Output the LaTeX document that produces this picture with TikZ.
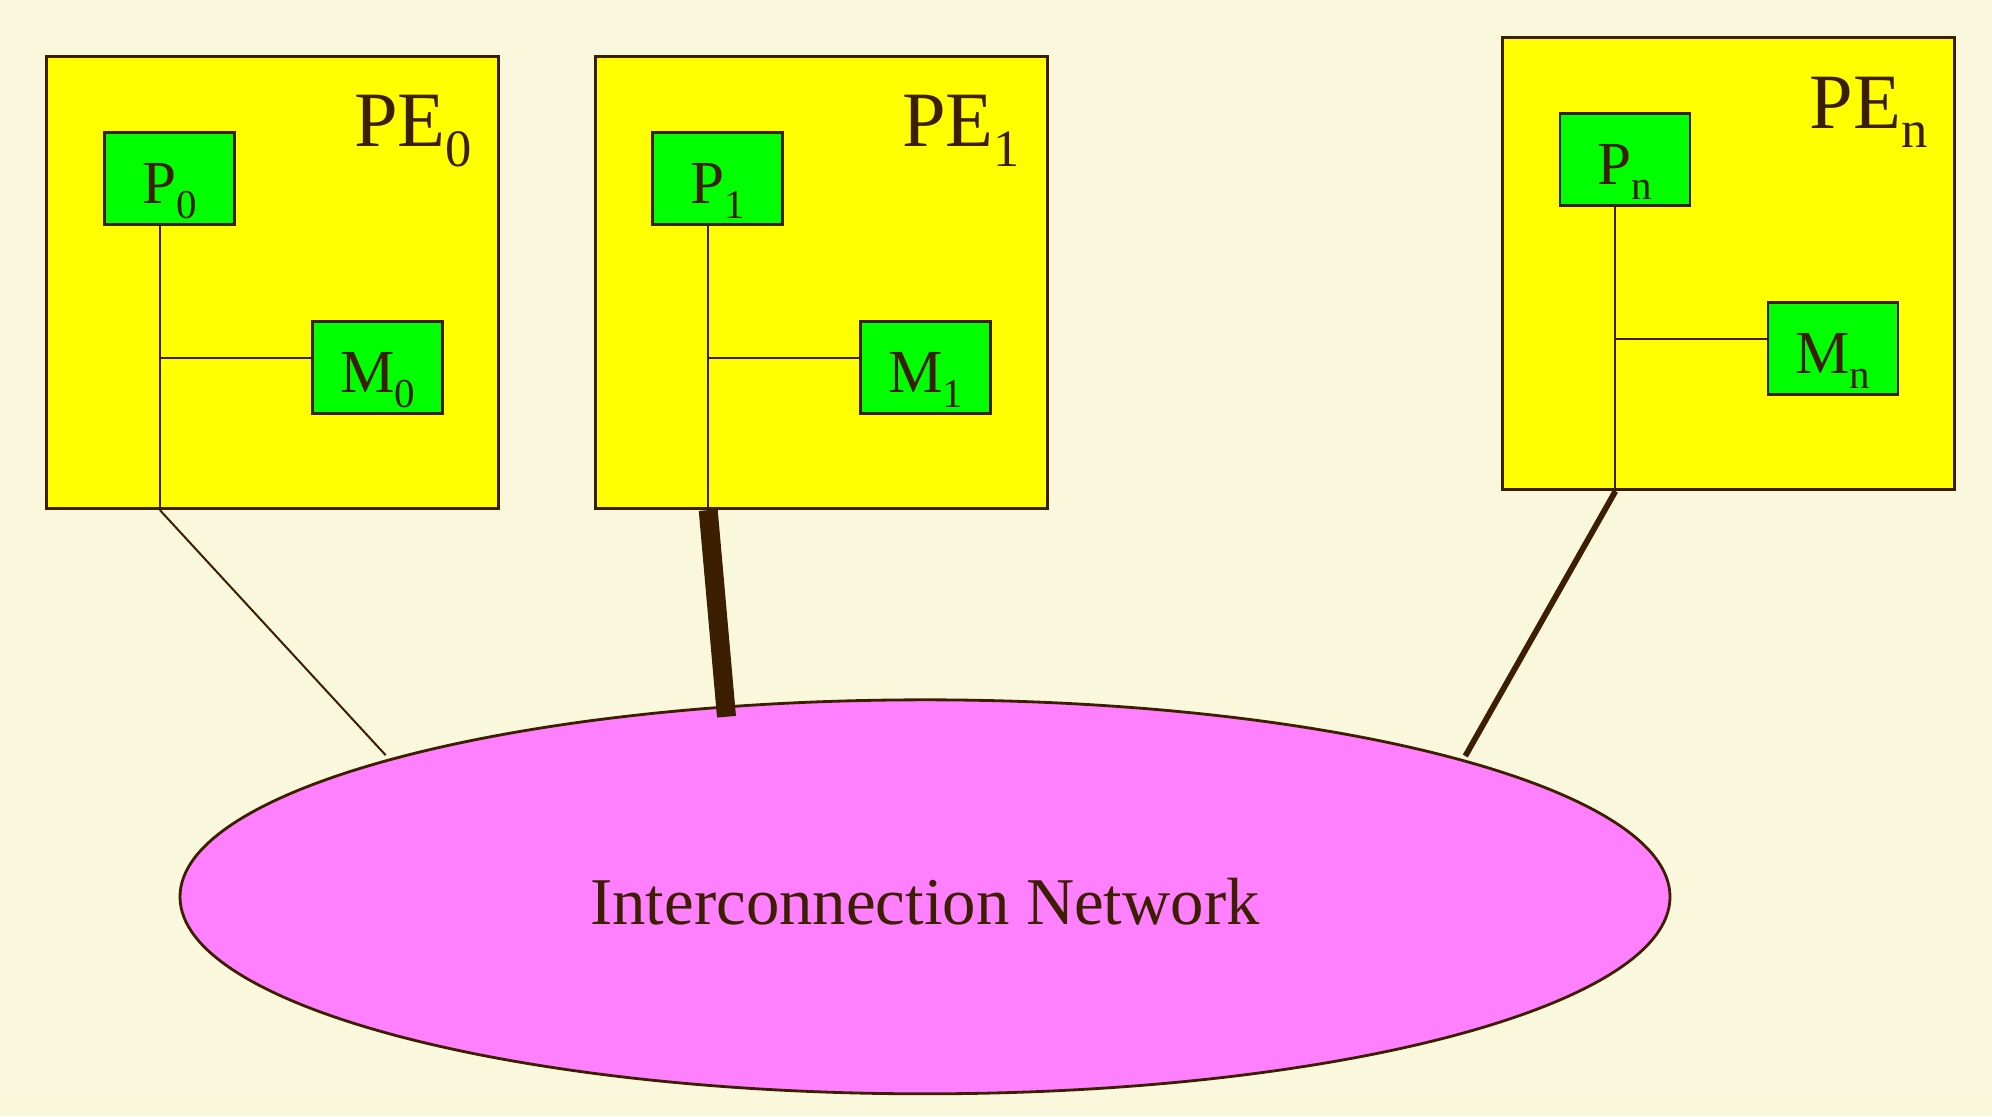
\documentclass[tikz,border=0pt]{standalone}
\usepackage{fontspec}
\setmainfont{Liberation Serif}
\usetikzlibrary{shapes.geometric}
\definecolor{bgcream}{HTML}{FAF8DC}
\definecolor{edgebrown}{HTML}{3C1E00}
\definecolor{peyellow}{HTML}{FFFF00}
\definecolor{unitgreen}{HTML}{00FF00}
\definecolor{netpink}{HTML}{FF80FF}
\newcommand{\idx}[1]{\raisebox{-0.25em}{\scalebox{0.67}{#1}}}

\begin{document}
\begin{tikzpicture}[color=edgebrown,
    pebox/.style={draw, fill=peyellow, line width=0.9pt, minimum width=4.52cm, minimum height=4.52cm, inner sep=0pt},
    unitbox/.style={draw, fill=unitgreen, line width=0.8pt, minimum width=1.3cm, minimum height=0.92cm, inner sep=0pt,
        text height=0.49cm, text depth=0pt, font=\fontsize{17.4}{20}\selectfont},
    pelabel/.style={anchor=base west, inner sep=0pt, font=\fontsize{22.3}{26}\selectfont},
    wire/.style={line width=0.6pt}]
    % Background
    \fill[bgcream] (0,0) rectangle (19.92,-11.16);
    % Draw the interconnection network
    \node[ellipse, draw, fill=netpink, line width=0.8pt, minimum width=14.9cm, minimum height=3.94cm, inner sep=0pt,
        text height=0.55cm, text depth=0pt, font=\fontsize{19}{22}\selectfont] (net) at (9.25,-8.968) {Interconnection Network};
    % Draw PE_0
    \node[pebox] (pe0) at (2.729,-2.825) {};
    \node[pelabel] (pe0lab) at ([xshift=3.08cm,yshift=-0.92cm]pe0.north west) {PE\idx{0}};
    \node[unitbox] (p0) at ([shift={(-1.035,1.04)}]pe0) {P\idx{0}};
    \node[unitbox] (m0) at ([shift={(1.046,-0.85)}]pe0) {M\idx{0}};
    \coordinate (t0) at ([xshift=-0.095cm]p0.south);
    \coordinate (j0) at ([yshift=0.095cm]m0.west);
    \coordinate (b0) at (t0 |- pe0.south);
    \draw[wire] (t0) -- (b0);
    \draw[wire] (j0) -- (j0 -| t0);
    % Draw PE_1
    \node[pebox] (pe1) at (8.212,-2.825) {};
    \node[pelabel] (pe1lab) at ([xshift=3.08cm,yshift=-0.92cm]pe1.north west) {PE\idx{1}};
    \node[unitbox] (p1) at ([shift={(-1.035,1.04)}]pe1) {P\idx{1}};
    \node[unitbox] (m1) at ([shift={(1.046,-0.85)}]pe1) {M\idx{1}};
    \coordinate (t1) at ([xshift=-0.095cm]p1.south);
    \coordinate (j1) at ([yshift=0.095cm]m1.west);
    \coordinate (b1) at (t1 |- pe1.south);
    \draw[wire] (t1) -- (b1);
    \draw[wire] (j1) -- (j1 -| t1);
    % Draw PE_n
    \node[pebox] (pen) at (17.284,-2.636) {};
    \node[pelabel] (penlab) at ([xshift=3.08cm,yshift=-0.92cm]pen.north west) {PE\idx{n}};
    \node[unitbox] (pn) at ([shift={(-1.035,1.04)}]pen) {P\idx{n}};
    \node[unitbox] (mn) at ([shift={(1.046,-0.85)}]pen) {M\idx{n}};
    \coordinate (tn) at ([xshift=-0.095cm]pn.south);
    \coordinate (jn) at ([yshift=0.095cm]mn.west);
    \coordinate (bn) at (tn |- pen.south);
    \draw[wire] (tn) -- (bn);
    \draw[wire] (jn) -- (jn -| tn);
    % Links to the network
    \draw[line width=0.57pt] (b0) -- ([xshift=-5.393cm,yshift=-0.568cm]net.north);
    \draw[line width=5.4pt] (b1) -- ([xshift=-1.985cm,yshift=-0.183cm]net.north);
    \draw[line width=1.65pt] (bn) -- ([xshift=5.403cm,yshift=-0.576cm]net.north);
\end{tikzpicture}
\end{document}
